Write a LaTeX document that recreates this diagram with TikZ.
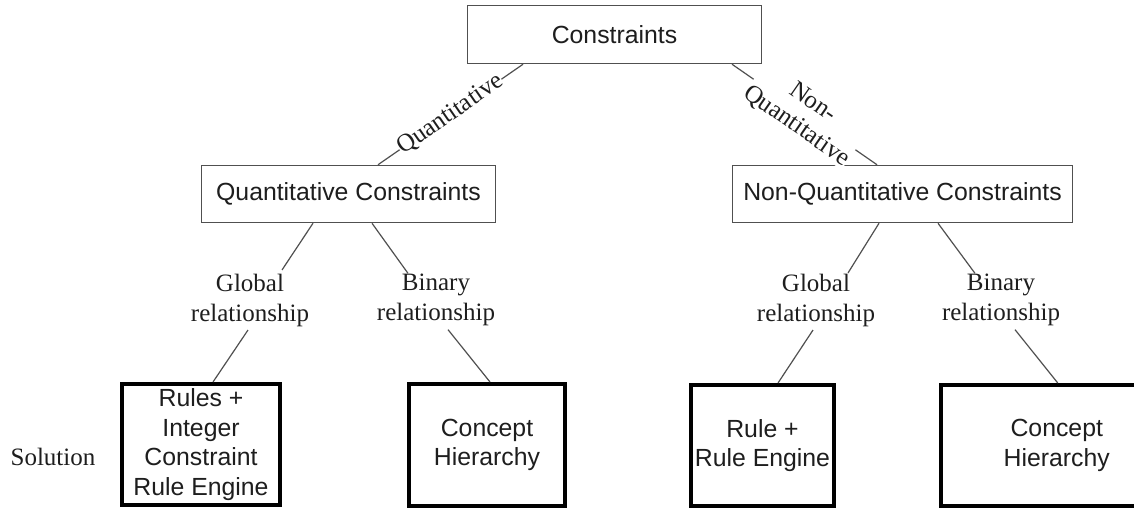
\documentclass[tikz,border=0pt]{standalone}
\usepackage{fontspec}
\setmainfont{Liberation Serif}
\newfontfamily\boxfont{Liberation Sans}
\usetikzlibrary{calc}
\definecolor{edgegray}{HTML}{505050}
\definecolor{inkgray}{HTML}{1E1E1E}
\begin{document}
\begin{tikzpicture}[x=1pt,y=-1pt,
  catbox/.style={draw=edgegray, line width=1.5pt, fill=white, inner sep=0pt,
    font=\boxfont\fontsize{24.8pt}{29.5pt}\selectfont, text=inkgray},
  solbox/.style={draw=black, line width=4pt, inner sep=0pt, align=center,
    font=\boxfont\fontsize{24.8pt}{29.5pt}\selectfont, text=inkgray},
  rel/.style={align=center, inner xsep=2pt, inner ysep=3.5pt,
    font=\fontsize{25pt}{30pt}\selectfont, text=inkgray},
  branch/.style={sloped, fill=white, inner sep=0pt, align=center,
    font=\fontsize{25pt}{28.5pt}\selectfont, text=inkgray},
  link/.style={draw=edgegray, line width=1.2pt},
  ]
\clip (0,0) rectangle (1134,510);
\fill[white] (0,0) rectangle (1134,510);

% category boxes
\node[catbox, minimum width=294pt, minimum height=58pt] (c) at (614.5,34.5) {Constraints};
\node[catbox, minimum width=294pt, minimum height=57pt] (qc) at (348.5,194) {Quantitative Constraints};
\node[catbox, minimum width=340pt, minimum height=57pt] (nqc) at (902.5,194) {Non-Quantitative Constraints};

% relationship labels
\node[rel] (gq) at (250,300) {Global\\relationship};
\node[rel] (bq) at (436,300) {Binary\\relationship};
\node[rel] (gn) at (816,300) {Global\\relationship};
\node[rel] (bn) at (1001,300) {Binary\\relationship};

% solution boxes
\node[solbox, minimum width=158pt, minimum height=121pt] (s1) at (201,444.5)
  {Rules +\\Integer\\Constraint\\Rule Engine};
\node[solbox, minimum width=156pt, minimum height=122pt] (s2) at (487,445)
  {Concept\\Hierarchy};
\node[solbox, minimum width=143pt, minimum height=121pt] (s3) at (762.5,445.5)
  {Rule +\\Rule Engine};
\node[solbox, minimum width=195.5pt, minimum height=121pt] (s4) at (1038.75,445.5)
  {\hspace*{36pt}Concept\\\hspace*{36pt}Hierarchy};

\node[rel, inner sep=0pt] (sol) at (53,457) {Solution};

% top-level branches
\draw[link] ($(c.south)+(-91.5,0)$) -- node[branch] {Quantitative} ($(qc.north)+(29.5,0)$);
\draw[link] ($(c.south)+(117.5,0)$) -- node[branch] {Non-\\Quantitative} ($(nqc.north)+(-25.5,0)$);

% quantitative side
\draw[link] ($(qc.south)+(-35.5,0)$) -- ($(gq.north)+(32,0)$);
\draw[link] ($(qc.south)+(23.5,0)$) -- ($(bq.north)+(-28,3)$);
\draw[link] ($(gq.south)+(-2,0)$) -- ($(s1.north)+(12,0)$);
\draw[link] ($(bq.south)+(12,0)$) -- ($(s2.north)+(3,0)$);

% non-quantitative side
\draw[link] ($(nqc.south)+(-23.5,0)$) -- ($(gn.north)+(32,3)$);
\draw[link] ($(nqc.south)+(35.5,0)$) -- ($(bn.north)+(-26,3)$);
\draw[link] ($(gn.south)+(-3,0)$) -- ($(s3.north)+(15.5,0)$);
\draw[link] ($(bn.south)+(14,0)$) -- ($(s4.north)+(19,0)$);
\end{tikzpicture}
\end{document}
